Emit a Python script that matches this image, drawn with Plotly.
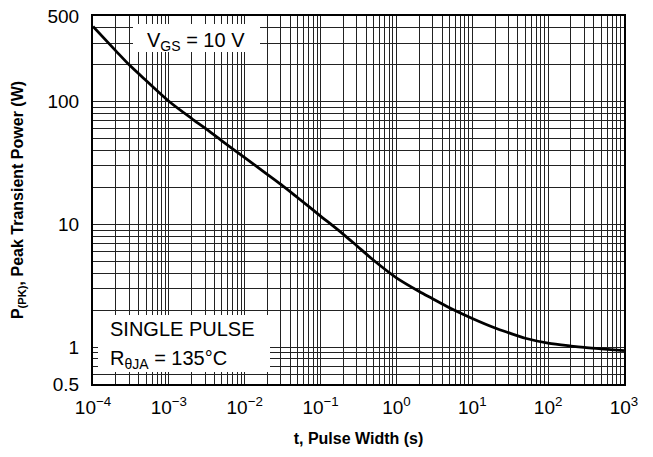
import plotly.graph_objects as go

# Data
pulse_width_s = [1e-4, 2e-4, 3e-4, 5e-4, 1e-3, 2e-3, 3e-3, 5e-3, 1e-2, 2e-2, 3e-2, 5e-2,
                 1e-1, 2e-1, 3e-1, 5e-1, 1, 2, 3, 5, 10, 20, 30, 50, 100, 200, 300, 500, 1000]
peak_power_w = [410, 260, 200, 149, 101, 73, 61, 48, 35, 25.5, 21.2, 16.5,
                11.7, 8.3, 6.7, 5.1, 3.67, 2.84, 2.48, 2.09, 1.71, 1.43, 1.31, 1.18, 1.077, 1.02, 0.993, 0.968, 0.935]

x_tick_vals = [1e-4, 1e-3, 1e-2, 1e-1, 1, 10, 100, 1000]
x_tick_text = ["10<sup>−4</sup>", "10<sup>−3</sup>", "10<sup>−2</sup>", "10<sup>−1</sup>",
               "10<sup>0</sup>", "10<sup>1</sup>", "10<sup>2</sup>", "10<sup>3</sup>"]
y_tick_vals = [0.5, 1, 10, 100, 500]
y_tick_text = ["0.5", "1", "10", "100", "500"]

x_minor = [m * 10.0 ** e for e in range(-4, 3) for m in range(2, 10)]
y_minor = [m * 10.0 ** e for e in range(-1, 3) for m in range(2, 10) if 0.5 < m * 10.0 ** e < 500]

FONT = "Liberation Sans, Arial, Helvetica, sans-serif"
GRID = "#222222"

fig = go.Figure()
fig.add_trace(go.Scatter(
    x=pulse_width_s, y=peak_power_w, mode="lines",
    line=dict(color="black", width=2.8, shape="spline", smoothing=0.8),
    hoverinfo="skip", showlegend=False,
))

fig.update_xaxes(
    type="log", range=[-4, 3],
    tickmode="array", tickvals=x_tick_vals, ticktext=x_tick_text,
    showgrid=True, gridcolor=GRID, gridwidth=1,
    minor=dict(tickmode="array", tickvals=x_minor, showgrid=True, gridcolor=GRID, gridwidth=1, ticks=""),
    showline=True, linecolor="black", linewidth=2, mirror=True,
    ticks="", ticklabelstandoff=5, tickfont=dict(family=FONT, size=19, color="black"),
    title=dict(text="<b>t, Pulse Width (s)</b>", font=dict(family=FONT, size=16, color="black"), standoff=16),
    zeroline=False, automargin=False,
)
fig.update_yaxes(
    type="log", range=[-0.30103, 2.69897],
    tickmode="array", tickvals=y_tick_vals, ticktext=y_tick_text,
    showgrid=True, gridcolor=GRID, gridwidth=1,
    minor=dict(tickmode="array", tickvals=y_minor, showgrid=True, gridcolor=GRID, gridwidth=1, ticks=""),
    showline=True, linecolor="black", linewidth=2, mirror=True,
    ticks="", ticklabelstandoff=8, tickfont=dict(family=FONT, size=19, color="black"),
    title=dict(text="<b>P<sub>(PK)</sub>, Peak Transient Power (W)</b>",
               font=dict(family=FONT, size=16, color="black"), standoff=20),
    zeroline=False, automargin=False,
)

# white boxes behind the labels (hide grid)
fig.add_shape(type="rect", xref="paper", yref="paper", layer="above",
              x0=(133 - 93) / 531, x1=(260 - 93) / 531,
              y0=(384 - 52) / 368, y1=(384 - 24) / 368,
              fillcolor="white", line=dict(width=0))
fig.add_shape(type="rect", xref="paper", yref="paper", layer="above",
              x0=(98 - 93) / 531, x1=(270 - 93) / 531,
              y0=(384 - 372) / 368, y1=(384 - 315) / 368,
              fillcolor="white", line=dict(width=0))

fig.add_annotation(xref="paper", yref="paper", x=(196 - 93) / 531, y=(384 - 41) / 368,
                   text="V<sub>GS</sub> = 10 V", showarrow=False,
                   font=dict(family=FONT, size=20, color="black"), xanchor="center", yanchor="middle")
fig.add_annotation(xref="paper", yref="paper", x=(108 - 93) / 531, y=(384 - 329) / 368,
                   text="SINGLE PULSE", showarrow=False,
                   font=dict(family=FONT, size=20, color="black"), xanchor="left", yanchor="middle")
fig.add_annotation(xref="paper", yref="paper", x=(108 - 93) / 531, y=(384 - 359) / 368,
                   text="R<sub>θJA</sub> = 135°C", showarrow=False,
                   font=dict(family=FONT, size=20, color="black"), xanchor="left", yanchor="middle")

fig.update_layout(
    width=653, height=457,
    margin=dict(l=93, r=29, t=16, b=73),
    paper_bgcolor="white", plot_bgcolor="white",
    font=dict(family=FONT, color="black"),
)

fig.write_html("out.html", config={"displayModeBar": False},
               post_script="document.body.style.margin='0';")
